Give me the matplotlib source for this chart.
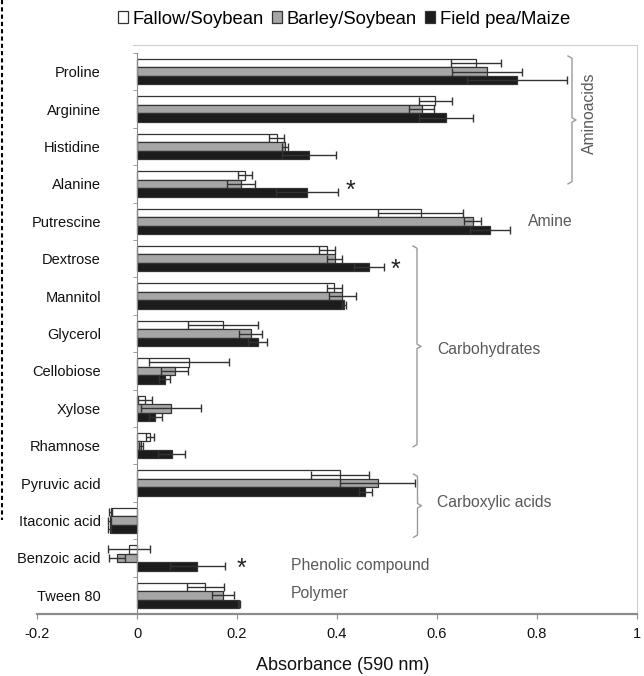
import matplotlib
matplotlib.use("Agg")
import matplotlib.pyplot as plt
from matplotlib.patches import Patch
from matplotlib.lines import Line2D
import numpy as np

plt.rcParams['font.family'] = ['Liberation Sans', 'DejaVu Sans']

categories = ["Proline", "Arginine", "Histidine", "Alanine", "Putrescine", "Dextrose",
              "Mannitol", "Glycerol", "Cellobiose", "Xylose", "Rhamnose", "Pyruvic acid",
              "Itaconic acid", "Benzoic acid", "Tween 80"]
series_names = ["Fallow/Soybean", "Barley/Soybean", "Field pea/Maize"]

fallow = [0.678, 0.596, 0.279, 0.216, 0.567, 0.379, 0.394, 0.171, 0.103, 0.016, 0.026,
          0.406, -0.053, -0.017, 0.136]
fallow_sd = [0.050, 0.033, 0.015, 0.014, 0.085, 0.016, 0.015, 0.070, 0.080, 0.014, 0.008,
             0.058, 0.003, 0.042, 0.037]
barley = [0.700, 0.569, 0.296, 0.207, 0.671, 0.395, 0.410, 0.227, 0.075, 0.068, 0.008,
          0.481, -0.055, -0.040, 0.171]
barley_sd = [0.070, 0.024, 0.006, 0.028, 0.017, 0.015, 0.027, 0.023, 0.027, 0.060, 0.004,
             0.075, 0.003, 0.016, 0.022]
pea = [0.760, 0.617, 0.343, 0.340, 0.706, 0.463, 0.413, 0.241, 0.055, 0.036, 0.069,
       0.456, -0.055, 0.120, 0.203]
pea_sd = [0.100, 0.054, 0.054, 0.062, 0.040, 0.030, 0.004, 0.019, 0.011, 0.013, 0.027,
          0.013, 0.003, 0.055, 0.002]

xticks = [-0.2, 0, 0.2, 0.4, 0.6, 0.8, 1.0]
xtick_labels = ["-0.2", "0", "0.2", "0.4", "0.6", "0.8", "1"]

W, H = 644, 676
fig = plt.figure(figsize=(W / 100, H / 100), dpi=100)
ax = fig.add_axes([37 / W, 1 - 614 / H, 600 / W, (614 - 45) / H])

n = len(categories)
y = np.arange(n)
h = 0.227
colors = ["white", "#a6a6a6", "#1c1c1c"]
edge = "#333333"
ekw = dict(ecolor="#333333", elinewidth=1.0, capsize=3, capthick=1.0)

for vals, sds, off, col in [(fallow, fallow_sd, -h, colors[0]),
                            (barley, barley_sd, 0.0, colors[1]),
                            (pea, pea_sd, h, colors[2])]:
    ax.barh(y + off, vals, height=h, color=col, edgecolor=edge, linewidth=0.9,
            xerr=sds, error_kw=ekw, zorder=2)

ax.set_xlim(-0.2, 1.0)
ax.set_ylim(n - 0.5, -0.5 - 8 / 37.4)

# spines
ax.spines['left'].set_position(('data', 0))
ax.spines['left'].set_bounds(n - 0.5, -0.5)
ax.spines['left'].set_color("#8c8c8c")
ax.spines['top'].set_bounds(-0.008, 1.0)
ax.spines['top'].set_color("#cfcfcf")
ax.spines['right'].set_color("#cfcfcf")
ax.spines['bottom'].set_color("#8c8c8c")
ax.spines['bottom'].set_linewidth(1.6)

ax.set_yticks(y)
ax.set_yticklabels(categories, fontsize=10.5, color="#111111")
ax.tick_params(axis='y', which='major', length=0, pad=26)
ax.set_yticks(np.arange(-0.5, n - 1, 1.0), minor=True)
ax.tick_params(axis='y', which='minor', length=3, color="#8c8c8c", direction='out')

ax.set_xticks(xticks)
ax.set_xticklabels(xtick_labels, fontsize=10.5, color="#111111")
ax.tick_params(axis='x', which='major', length=3.5, color="#8c8c8c", direction='out', pad=6)

fig.text(343 / W, 1 - 665 / H, "Absorbance (590 nm)", ha='center', va='center',
         fontsize=13, color="#111111")

# legend
handles = [Patch(facecolor=c, edgecolor=edge, linewidth=0.9) for c in colors]
fig.legend(handles, series_names, loc='center', bbox_to_anchor=(344 / W, 1 - 19 / H),
           ncol=3, frameon=False, fontsize=13.3, handlelength=0.55, handleheight=0.55,
           handletextpad=0.25, columnspacing=0.45, borderpad=0)

# braces
def brace(x, y0, y1, w=0.008, d=0.06):
    ym = (y0 + y1) / 2
    xs = [x - w, x, x, x + w, x, x, x - w]
    ys = [y0, y0 + d, ym - d, ym, ym + d, y1 - d, y1]
    ax.plot(xs, ys, color="#9a9a9a", lw=1.0, clip_on=False, zorder=3)

brace(0.870, -0.42, 3.0)
brace(0.560, 4.66, 10.03)
brace(0.561, 10.76, 12.45)

tc = "#595959"
fs = 11.3
ax.text(0.904, 1.12, "Aminoacids", rotation=90, ha='center', va='center', fontsize=fs, color=tc)
ax.text(0.782, 4.0, "Amine", ha='left', va='center', fontsize=fs, color=tc)
ax.text(0.600, 7.44, "Carbohydrates", ha='left', va='center', fontsize=fs, color=tc)
ax.text(0.600, 11.52, "Carboxylic acids", ha='left', va='center', fontsize=fs, color=tc)
ax.text(0.308, 13.19, "Phenolic compound", ha='left', va='center', fontsize=fs, color=tc)
ax.text(0.308, 13.94, "Polymer", ha='left', va='center', fontsize=fs, color=tc)

for xa, ya in [(0.426, 3.05), (0.517, 5.17), (0.208, 13.16)]:
    ax.text(xa, ya + 0.14, "*", ha='center', va='center', fontsize=18, color="#222222")

# left border artifact
fig.add_artist(Line2D([1.5 / W, 1.5 / W], [1.0, 1 - 520 / H], transform=fig.transFigure,
                      color="black", lw=1.5, ls=(0, (2, 1.5))))

fig.savefig("out.png", dpi=100)
